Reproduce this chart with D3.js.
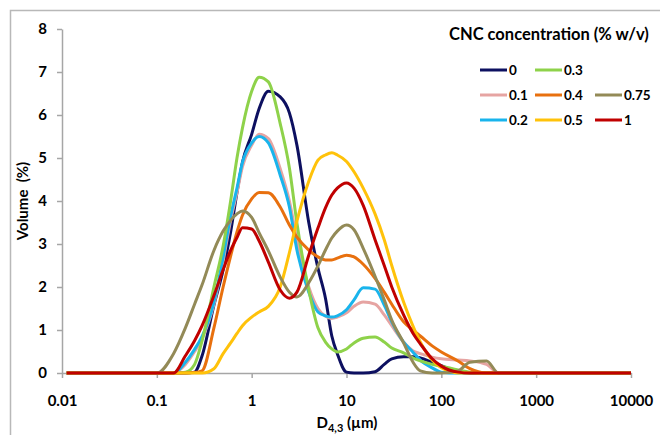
<!DOCTYPE html>
<html>
<head>
<meta charset="utf-8">
<script src="https://cdn.jsdelivr.net/npm/d3@7"></script>
<style>
  body { margin: 0; background: #fff; }
  text { font-family: Lato, "Open Sans", sans-serif; font-weight: bold; fill: #000; }
</style>
</head>
<body>
<div id="chart-area"></div>
<script>
// particle size grid (um) shared by all samples
var sizes = [0.0112, 0.1, 0.15, 0.2, 0.25, 0.3, 0.4, 0.5, 0.6, 0.7, 0.8, 1, 1.2, 1.5, 2, 2.5, 3, 4, 5, 6, 7, 8,
             10, 12, 15, 20, 25, 30, 40, 50, 60, 80, 100, 150, 200, 300, 400, 10000];

// volume (%) per CNC concentration
var vol0   = [0, 0, 0, 0, 0.02, 0.4, 1.58, 2.4, 3.28, 4.2, 4.9, 5.55, 6.15, 6.55, 6.42, 6.05, 5.3, 3.5, 2.44, 1.74, 0.86, 0.45,
              0.02, 0, 0, 0.03, 0.2, 0.33, 0.38, 0.38, 0.35, 0.25, 0.17, 0.02, 0, 0, 0, 0];
var vol01  = [0, 0, 0, 0.2, 0.5, 0.8, 1.6, 2.6, 3.55, 4.2, 4.8, 5.3, 5.55, 5.45, 4.75, 4.0, 3.1, 2.0, 1.5, 1.32, 1.27, 1.3,
              1.4, 1.55, 1.65, 1.6, 1.35, 1.1, 0.72, 0.52, 0.45, 0.37, 0.33, 0.3, 0.28, 0.2, 0, 0];
var vol02  = [0, 0, 0, 0.25, 0.55, 0.85, 1.65, 2.7, 3.65, 4.3, 4.9, 5.35, 5.5, 5.35, 4.6, 3.86, 2.86, 1.88, 1.42, 1.33, 1.3, 1.33,
              1.47, 1.7, 1.98, 1.95, 1.58, 1.19, 0.72, 0.49, 0.3, 0.12, 0.02, 0, 0, 0, 0, 0];
var vol03  = [0, 0, 0, 0.02, 0.2, 0.75, 2.0, 2.95, 4.0, 5.0, 5.7, 6.55, 6.88, 6.77, 5.8, 4.77, 3.49, 1.93, 1.05, 0.72, 0.56, 0.49,
              0.56, 0.7, 0.81, 0.84, 0.72, 0.58, 0.47, 0.35, 0.28, 0.2, 0.16, 0.07, 0.02, 0, 0, 0];
var vol04  = [0, 0, 0, 0, 0.01, 0.05, 1.05, 2.0, 2.72, 3.28, 3.67, 4.05, 4.2, 4.19, 3.86, 3.44, 3.16, 2.86, 2.7, 2.63, 2.63, 2.67,
              2.74, 2.7, 2.53, 2.2, 1.88, 1.6, 1.19, 1.0, 0.86, 0.63, 0.49, 0.28, 0.1, 0, 0, 0];
var vol05  = [0, 0, 0, 0, 0, 0, 0.1, 0.45, 0.7, 0.92, 1.1, 1.3, 1.42, 1.55, 2.0, 2.8, 3.53, 4.46, 4.95, 5.07, 5.12, 5.07,
              4.92, 4.68, 4.3, 3.7, 3.1, 2.5, 1.65, 1.1, 0.72, 0.3, 0.12, 0, 0, 0, 0, 0];
var vol075 = [0, 0, 0.45, 1.05, 1.6, 2.05, 2.85, 3.3, 3.55, 3.7, 3.77, 3.62, 3.26, 2.84, 2.23, 1.88, 1.77, 2.1, 2.49, 2.86, 3.14, 3.3,
              3.44, 3.33, 2.9, 2.25, 1.7, 1.23, 0.7, 0.26, 0.05, 0, 0, 0.05, 0.25, 0.28, 0, 0];
var vol1   = [0, 0, 0, 0.4, 0.75, 1.1, 1.8, 2.4, 2.85, 3.15, 3.38, 3.35, 3.07, 2.58, 1.93, 1.74, 1.88, 2.74, 3.37, 3.84, 4.14, 4.3,
              4.42, 4.3, 3.9, 3.1, 2.5, 2.0, 1.35, 0.93, 0.68, 0.33, 0.16, 0.02, 0, 0, 0, 0];

var labels = ["0", "0.1", "0.2", "0.3", "0.4", "0.5", "0.75", "1"];
var colors = ["#0d1060", "#e6a4a2", "#19b4ec", "#8ed24a", "#e8700e", "#ffc20a", "#938a57", "#c00000"];
var volumes = [vol0, vol01, vol02, vol03, vol04, vol05, vol075, vol1];

var xTicks = [0.01, 0.1, 1, 10, 100, 1000, 10000];
var yTicks = [0, 1, 2, 3, 4, 5, 6, 7, 8];

var svg = d3.select("#chart-area")
    .append("svg")
        .attr("width", 660)
        .attr("height", 435);

// outer chart frame
svg.append("rect")
    .attr("x", 10.5).attr("y", 10.5)
    .attr("width", 700).attr("height", 500)
    .attr("fill", "none")
    .attr("stroke", "#b8b8b8")
    .attr("stroke-width", 1.5);

var x = d3.scaleLog().domain([0.01, 10000]).range([62, 631]);
var y = d3.scaleLinear().domain([0, 8]).range([373, 29]);

var xAxis = svg.append("g")
    .attr("transform", "translate(0,373)")
    .call(d3.axisBottom(x).tickValues(xTicks).tickFormat(d => String(d)).tickSize(5).tickPadding(17).tickSizeOuter(0));

var yAxis = svg.append("g")
    .attr("transform", "translate(62,0)")
    .call(d3.axisLeft(y).tickValues(yTicks).tickSize(5).tickPadding(10).tickSizeOuter(0));

[xAxis, yAxis].forEach(a => {
    a.selectAll("path, line").attr("stroke", "#a6a6a6").attr("stroke-width", 1.5);
    a.selectAll("text").style("font-size", "15px").style("font-family", "Lato, 'Open Sans', sans-serif")
        .style("font-weight", "bold").attr("fill", "#000");
});

// axis titles
var xt = svg.append("text")
    .attr("x", 347).attr("y", 428)
    .attr("text-anchor", "middle")
    .style("font-size", "15px");
xt.append("tspan").text("D");
xt.append("tspan").attr("dy", 4).style("font-size", "11px").text("4,3");
xt.append("tspan").attr("dy", -4).text(" (\u00b5m)");

svg.append("text")
    .attr("transform", "translate(28,201) rotate(-90)")
    .attr("text-anchor", "middle")
    .style("font-size", "15px")
    .style("white-space", "pre")
    .text("Volume  (%)");

// curves
var line = d3.line()
    .x(d => x(d[0]))
    .y(d => y(d[1]))
    .curve(d3.curveMonotoneX);

volumes.forEach((v, i) => {
    svg.append("path")
        .datum(sizes.map((s, j) => [s, v[j]]))
        .attr("fill", "none")
        .attr("stroke", colors[i])
        .attr("stroke-width", 3)
        .attr("stroke-linejoin", "round")
        .attr("d", line);
});

// legend
svg.append("text")
    .attr("x", 449).attr("y", 40)
    .style("font-size", "16.5px")
    .text("CNC concentration (% w/v)");

var colX = [480, 535, 595];
var rowY = [70, 95, 120];

labels.forEach((lab, i) => {
    var pos = i + (i >= 6 ? 1 : 0);
    var cx = colX[Math.floor(pos / 3)], cy = rowY[pos % 3];
    svg.append("line")
        .attr("x1", cx).attr("x2", cx + 27)
        .attr("y1", cy).attr("y2", cy)
        .attr("stroke", colors[i])
        .attr("stroke-width", 3);
    svg.append("text")
        .attr("x", cx + 29).attr("y", cy + 5)
        .style("font-size", "13.5px")
        .text(lab);
});
</script>
</body>
</html>
